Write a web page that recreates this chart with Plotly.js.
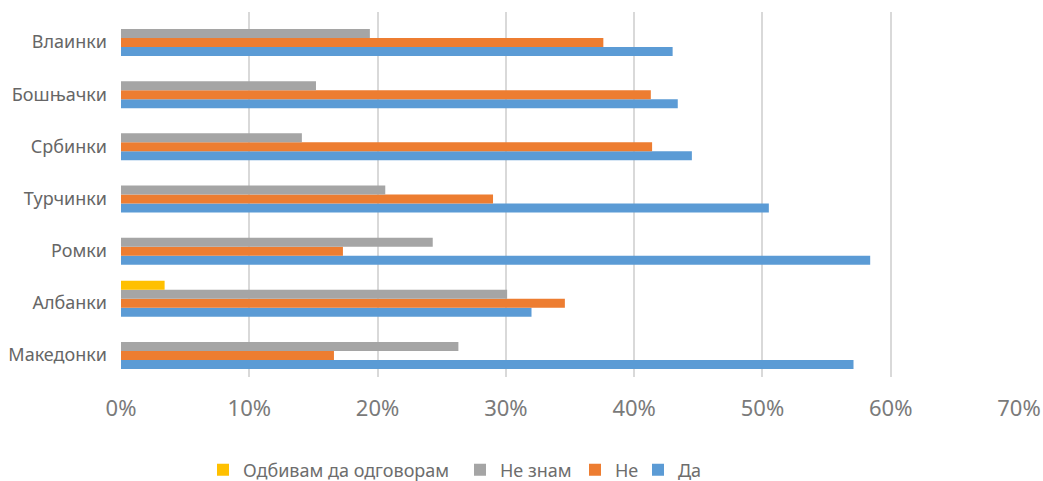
<!DOCTYPE html>
<html>
<head>
<meta charset="utf-8">
<script src="https://cdn.plot.ly/plotly-3.0.1.min.js"></script>
<style>html,body{margin:0;padding:0;background:#fff;}#chart{width:1043px;height:481px;}</style>
</head>
<body>
<div id="chart"></div>
<script>
var categories = ["Македонки", "Албанки", "Ромки", "Турчинки", "Србинки", "Бошњачки", "Влаинки"];
var seriesNames = ["Да", "Не", "Не знам", "Одбивам да одговорам"];
var da      = [0.571, 0.320, 0.584, 0.505, 0.445, 0.434, 0.430];
var ne      = [0.166, 0.346, 0.173, 0.290, 0.414, 0.413, 0.376];
var neZnam  = [0.263, 0.301, 0.243, 0.206, 0.141, 0.152, 0.194];
var odbivam = [null, 0.034, null, null, null, null, null];
var colors = ["#5b9bd5", "#ed7d31", "#a5a5a5", "#ffc000"];

var font = "Noto Sans, Open Sans, sans-serif";
var vals = [da, ne, neZnam, odbivam];
var legendNames = ["legend4", "legend3", "legend2", "legend"];
var traces = vals.map(function(v, i) {
  return {
    type: "bar", orientation: "h",
    x: v, y: categories, name: seriesNames[i],
    marker: {color: colors[i], line: {width: 0}},
    legend: legendNames[i],
    hoverinfo: "x+y+name"
  };
});

function leg(xpx) {
  return {
    orientation: "h", x: (xpx - 121) / 898, xanchor: "left", y: -0.255, yanchor: "middle",
    font: {family: font, size: 18, color: "#6d6d6d"}, bgcolor: "rgba(0,0,0,0)"
  };
}

var layout = {
  width: 1043, height: 481,
  margin: {l: 121, r: 24, t: 12, b: 104, autoexpand: false},
  barmode: "group", bargap: 0.31, bargroupgap: 0,
  paper_bgcolor: "#ffffff", plot_bgcolor: "#ffffff",
  font: {family: font, color: "#595959"},
  showlegend: true,
  legend: leg(203),
  legend2: leg(460),
  legend3: leg(575),
  legend4: leg(638),
  xaxis: {
    range: [0, 0.7], dtick: 0.1, tickformat: ".0%",
    showgrid: true, gridcolor: "#d9d9d9", gridwidth: 2,
    zeroline: false, showline: false, ticks: "",
    tickfont: {family: font, size: 22, color: "#7a7a7a"},
    ticklabelstandoff: 16
  },
  yaxis: {
    type: "category", showgrid: false, zeroline: false, showline: false,
    ticks: "", tickfont: {family: font, size: 18, color: "#666666"},
    ticklabelstandoff: 13, ticklabelshift: 4
  }
};

Plotly.newPlot("chart", traces, layout, {displayModeBar: false, staticPlot: true});
</script>
</body>
</html>
